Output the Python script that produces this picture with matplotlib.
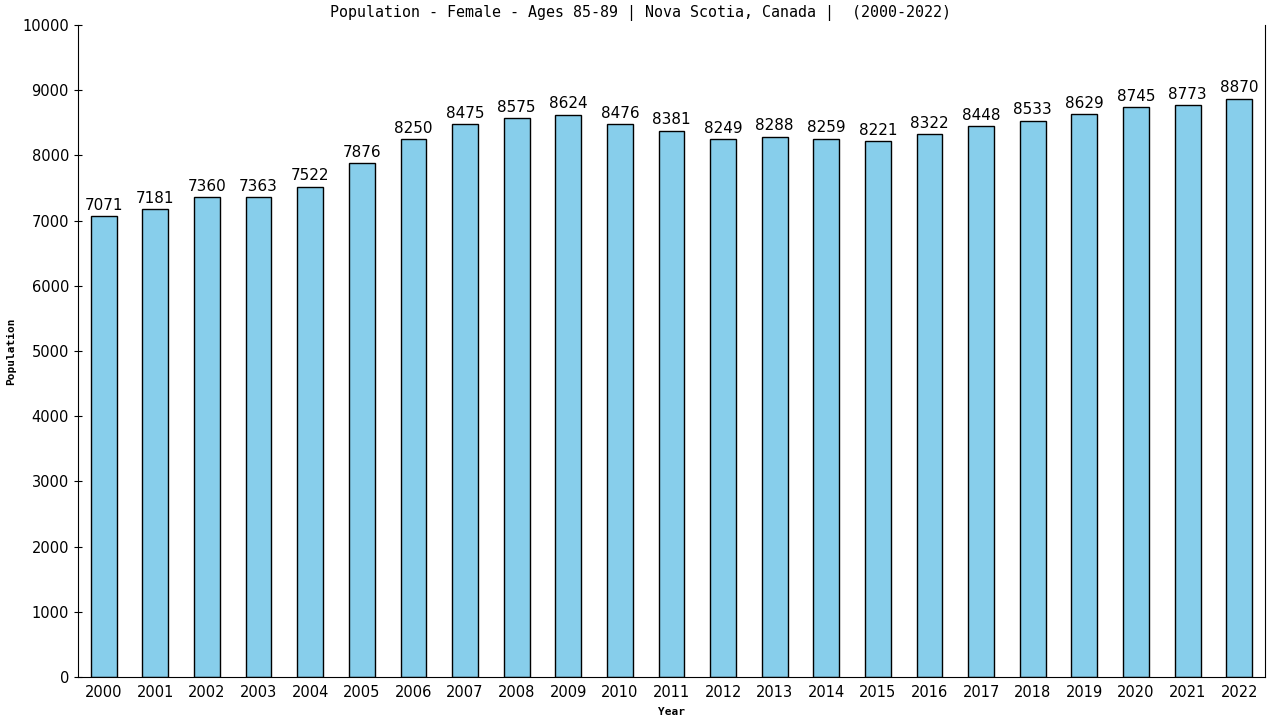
import matplotlib
matplotlib.use("Agg")
import matplotlib.pyplot as plt

years = list(range(2000, 2023))
population = [7071, 7181, 7360, 7363, 7522, 7876, 8250, 8475, 8575, 8624, 8476,
              8381, 8249, 8288, 8259, 8221, 8322, 8448, 8533, 8629, 8745, 8773, 8870]

fig = plt.figure(figsize=(12.8, 7.2), dpi=100)
ax = fig.add_axes([0.0609, 0.0597, 0.9274, 0.9056])

x = range(len(years))
bars = ax.bar(x, population, width=0.5, color="#87CEEB", edgecolor="black", linewidth=1)

for xi, v in zip(x, population):
    ax.text(xi, v + 50, str(v), ha="center", va="bottom", fontsize=11, family="DejaVu Sans")

ax.set_xlim(-0.5, len(years) - 0.5)
ax.set_ylim(0, 10000)
ax.set_yticks(range(0, 10001, 1000))
ax.set_xticks(list(x))
ax.set_xticklabels([str(y) for y in years], fontsize=10.5)
ax.tick_params(axis="y", labelsize=10.5, length=6, direction="inout")
ax.tick_params(axis="x", length=0, pad=6)

ax.spines["top"].set_visible(False)
ax.spines["right"].set_visible(True)

# title is centred on the figure, not the axes
fig.text(0.5, 0.982, "Population - Female - Ages 85-89 | Nova Scotia, Canada |  (2000-2022)",
         family="DejaVu Sans Mono", fontsize=10.8, ha="center", va="center")
ax.set_xlabel("Year", family="DejaVu Sans Mono", fontsize=8, fontweight="bold", labelpad=5)
ax.set_ylabel("Population", family="DejaVu Sans Mono", fontsize=8, fontweight="bold", labelpad=4)

fig.savefig("out.png", dpi=100)
